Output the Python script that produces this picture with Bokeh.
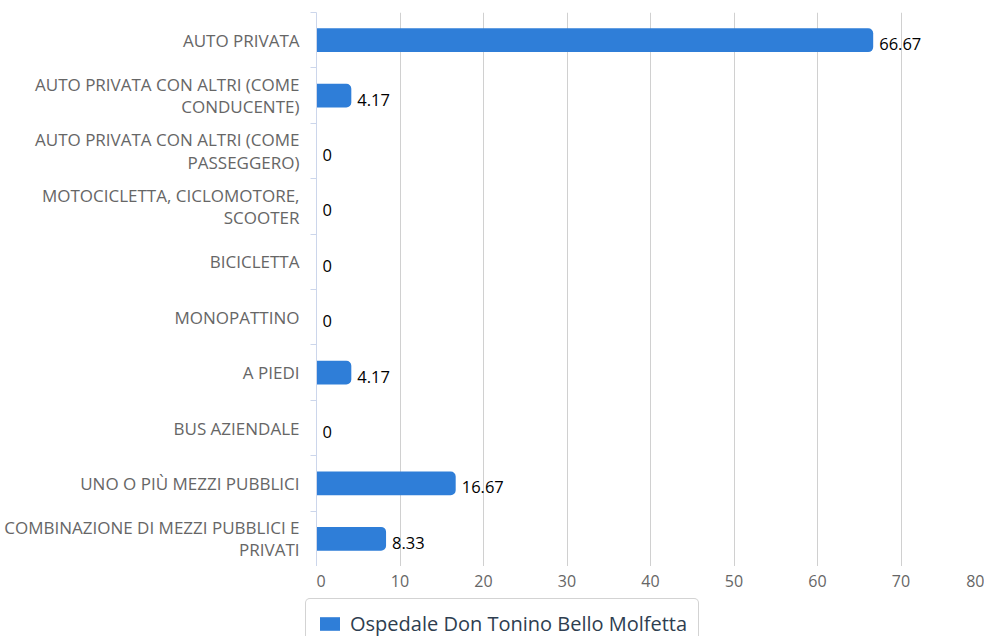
from bokeh.plotting import figure
from bokeh.layouts import column
from bokeh.models import (Range1d, FixedTicker, Legend, LegendItem,
                          ColumnDataSource)
from bokeh.core.properties import value
from bokeh.embed import file_html
from bokeh.resources import INLINE

categories = [
    "AUTO PRIVATA",
    "AUTO PRIVATA CON ALTRI (COME\nCONDUCENTE)",
    "AUTO PRIVATA CON ALTRI (COME\nPASSEGGERO)",
    "MOTOCICLETTA, CICLOMOTORE,\nSCOOTER",
    "BICICLETTA",
    "MONOPATTINO",
    "A PIEDI",
    "BUS AZIENDALE",
    "UNO O PIÙ MEZZI PUBBLICI",
    "COMBINAZIONE DI MEZZI PUBBLICI E\nPRIVATI",
]
values = [66.67, 4.17, 0, 0, 0, 0, 4.17, 0, 16.67, 8.33]
series_name = "Ospedale Don Tonino Bello Molfetta"
x_ticks = [0, 10, 20, 30, 40, 50, 60, 70, 80]

FONT = "Open Sans"
BAR = "#2f7ed8"
W = 984
LEFT = 316
TOP_H = 566
BOT_H = 70
X_MAX = 80

pos = list(range(len(categories)))
labels = [f"{v:g}" for v in values]
src = ColumnDataSource(dict(y=pos, v=values, lab=labels))

# ---------------- main chart ----------------
p = figure(width=W, height=TOP_H, output_backend="svg", toolbar_location=None,
           x_range=Range1d(0, X_MAX), y_range=Range1d(len(categories) - 0.5, -0.5),
           min_border_left=LEFT, min_border_right=0, min_border_top=12,
           min_border_bottom=0)
p.outline_line_color = None

bars = p.hbar(y="y", right="v", left=0, height=0.43, source=src,
              fill_color=BAR, line_color=None, border_radius=(0, 5, 5, 0))

p.text(x="v", y="y", text="lab", source=src, x_offset=6, y_offset=4,
       text_font=value(FONT), text_font_size="16.5px", text_color="#000000",
       text_baseline="middle", text_align="left")

yax = p.yaxis[0]
yax.ticker = FixedTicker(ticks=pos, minor_ticks=[i - 0.5 for i in range(len(categories) + 1)])
yax.major_label_overrides = {i: c for i, c in zip(pos, categories)}
yax.major_tick_line_color = None
yax.major_tick_out = 0
yax.major_tick_in = 0
yax.minor_tick_out = 6
yax.minor_tick_in = 0
yax.minor_tick_line_color = "#ccd6eb"
yax.axis_line_color = "#ccd6eb"
yax.major_label_text_font = FONT
yax.major_label_text_font_size = "17px"
yax.major_label_text_color = "#666666"
yax.major_label_text_line_height = 0.96
yax.major_label_standoff = 11

p.xaxis.visible = False
p.xgrid.ticker = FixedTicker(ticks=x_ticks)
p.xgrid.grid_line_color = "#d0d0d0"
p.ygrid.grid_line_color = None

# ---------------- x tick labels + legend strip ----------------
x_left = -LEFT * X_MAX / (W - LEFT)
q = figure(width=W, height=BOT_H, output_backend="svg", toolbar_location=None,
           x_range=Range1d(x_left, X_MAX), y_range=Range1d(BOT_H, 0),
           min_border_left=0, min_border_right=0, min_border_top=0,
           min_border_bottom=0)
if hasattr(q, "frame_align"):
    q.frame_align = False
    p.frame_align = False
q.outline_line_color = None
q.axis.visible = False
q.grid.grid_line_color = None

aligns = ["left"] + ["center"] * (len(x_ticks) - 2) + ["right"]
tick_src = ColumnDataSource(dict(x=x_ticks, t=[str(t) for t in x_ticks], a=aligns))
q.text(x="x", y=14, text="t", source=tick_src, text_align="a",
       text_baseline="middle", text_font=value(FONT), text_font_size="16px",
       text_color="#666666")

# hidden renderer that only provides the legend swatch
swatch = q.hbar(y="y", right="v", left=0, height=0.43, source=src,
                fill_color=BAR, line_color=None, border_radius=3, visible=False)

legend = Legend(items=[LegendItem(label=series_name, renderers=[swatch])],
                location=(LEFT - 11, -13), orientation="horizontal",
                label_text_font=FONT, label_text_font_size="20px",
                label_text_color="#2e3e50", glyph_width=25, glyph_height=17,
                label_standoff=8, padding=11, margin=0,
                border_line_color="#a8a8a8", border_line_width=1,
                background_fill_color="#ffffff", background_fill_alpha=1)
if hasattr(legend, "border_radius"):
    legend.border_radius = 5
q.add_layout(legend, "center")

open("out.html", "w").write(file_html(column(p, q, spacing=0), INLINE))
